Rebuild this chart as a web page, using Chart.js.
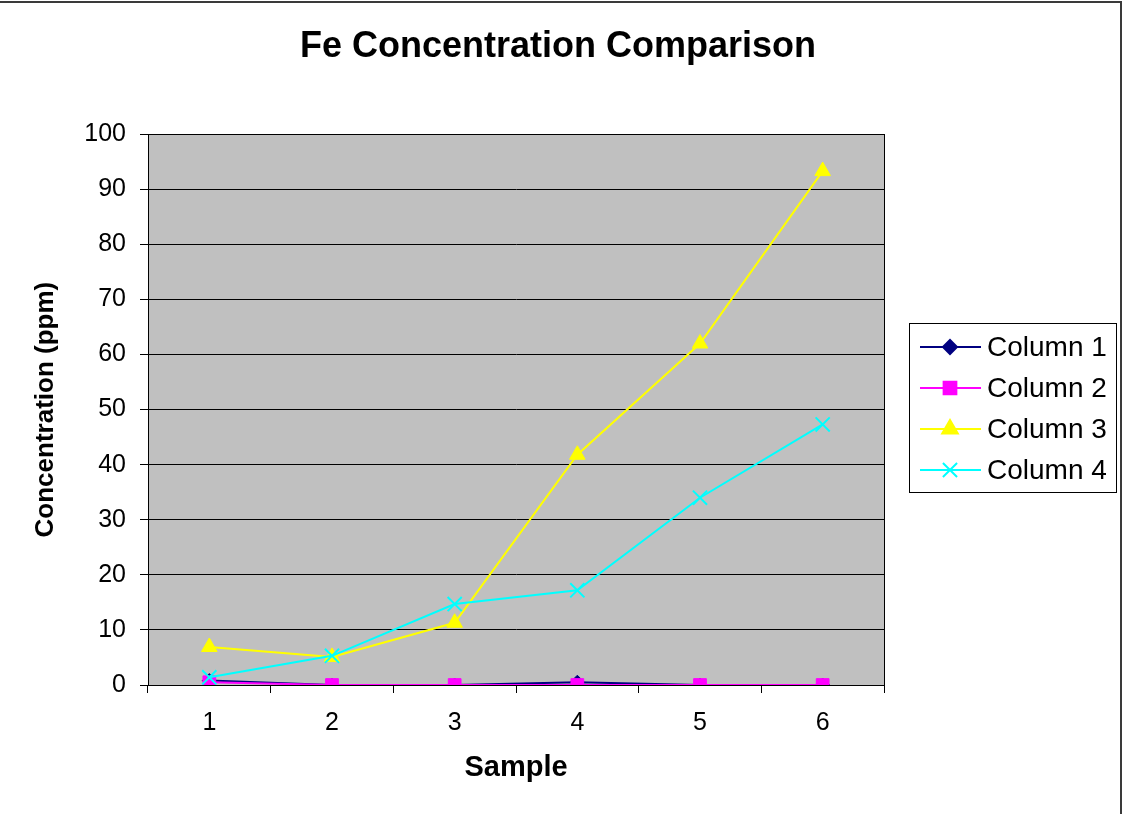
<!DOCTYPE html>
<html>
<head>
<meta charset="utf-8">
<script src="https://cdn.jsdelivr.net/npm/chart.js@4.4.1/dist/chart.umd.min.js"></script>
<style>
    html, body { margin: 0; padding: 0; background: #ffffff; }
    #wrap { width: 1128px; height: 814px; position: relative; }
</style>
</head>
<body>
<div id="wrap"><canvas id="feChart" width="1128" height="814"></canvas></div>
<script>
// Fe concentration data
const samples = ['1', '2', '3', '4', '5', '6'];
const column1 = [0.8, 0, 0, 0.5, 0, 0];
const column2 = [0.5, 0, 0, 0, 0, 0];
const column3 = [6.9, 5.1, 11.3, 41.8, 62.0, 93.3];
const column4 = [1.4, 5.3, 14.7, 17.2, 34.0, 47.3];
const seriesNames = ['Column 1', 'Column 2', 'Column 3', 'Column 4'];

const FONT = 'Arial, "Liberation Sans", sans-serif';

// gray plot area + frame on top/right, and outer page border
const plotBackground = {
    id: 'plotBackground',
    beforeDraw(chart) {
        const {ctx, chartArea: a} = chart;
        ctx.save();
        ctx.fillStyle = '#ffffff';
        ctx.fillRect(0, 0, chart.width, chart.height);
        ctx.fillStyle = '#c0c0c0';
        ctx.fillRect(a.left, a.top, a.right - a.left, a.bottom - a.top);
        ctx.restore();
    },
    afterDraw(chart) {
        const {ctx, chartArea: a} = chart;
        ctx.save();
        ctx.strokeStyle = '#000000';
        ctx.lineWidth = 1;
        ctx.strokeRect(Math.round(a.left) + 0.5, Math.round(a.top) + 0.5, Math.round(a.right - a.left), Math.round(a.bottom - a.top));
        ctx.strokeStyle = '#3a3a3a';
        ctx.lineWidth = 2;
        ctx.beginPath();
        ctx.moveTo(0, 2);
        ctx.lineTo(1121, 2);
        ctx.lineTo(1121, chart.height);
        ctx.stroke();
        ctx.restore();
    }
};

// Excel style legend: line with marker, boxed
const boxLegend = {
    id: 'boxLegend',
    afterDraw(chart) {
        const {ctx} = chart;
        const box = {x: 909, y: 323, w: 207, h: 169};
        ctx.save();
        ctx.fillStyle = '#ffffff';
        ctx.fillRect(box.x, box.y, box.w, box.h);
        ctx.strokeStyle = '#000000';
        ctx.lineWidth = 1;
        ctx.strokeRect(box.x + 0.5, box.y + 0.5, box.w, box.h);
        ctx.font = '28px ' + FONT;
        ctx.textBaseline = 'middle';
        chart.data.datasets.forEach((ds, i) => {
            const y = 347 + i * 41;
            ctx.strokeStyle = ds.borderColor;
            ctx.lineWidth = 2;
            ctx.beginPath();
            ctx.moveTo(920, y);
            ctx.lineTo(981, y);
            ctx.stroke();
            ctx.fillStyle = ds.pointBackgroundColor;
            ctx.strokeStyle = ds.pointBorderColor;
            Chart.helpers.drawPoint(ctx, {
                pointStyle: ds.pointStyle,
                radius: ds.pointRadius,
                rotation: 0,
                borderWidth: ds.pointBorderWidth
            }, 950, y);
            ctx.fillStyle = '#000000';
            ctx.fillText(ds.label, 987, y + 1);
        });
        ctx.restore();
    }
};

function makeSeries(label, data, color, style, radius, order) {
    return {
        label: label,
        data: data,
        borderColor: color,
        backgroundColor: color,
        pointBackgroundColor: color,
        pointBorderColor: color,
        pointBorderWidth: style === 'crossRot' ? 2 : 1,
        pointStyle: style,
        pointRadius: radius,
        borderWidth: 2,
        tension: 0,
        fill: false,
        order: order
    };
}

const ctx = document.getElementById('feChart').getContext('2d');
const feChart = new Chart(ctx, {
    type: 'line',
    data: {
        labels: samples,
        datasets: [
            makeSeries(seriesNames[0], column1, '#000080', 'rectRot', 7, 3),
            makeSeries(seriesNames[1], column2, '#ff00ff', 'rect', 9, 2),
            makeSeries(seriesNames[2], column3, '#ffff00', 'triangle', 9, 1),
            makeSeries(seriesNames[3], column4, '#00ffff', 'crossRot', 10, 0)
        ]
    },
    options: {
        responsive: false,
        animation: false,
        devicePixelRatio: 1,
        layout: { padding: { top: 0, right: 12, bottom: 0, left: 0 } },
        plugins: {
            legend: { display: false },
            tooltip: { enabled: false },
            title: {
                display: true,
                text: 'Fe Concentration Comparison',
                color: '#000000',
                font: { family: FONT, size: 36, weight: 'bold' },
                padding: { top: 25, bottom: 66 }
            }
        },
        scales: {
            x: {
                offset: true,
                afterFit(scale) { scale.height = 129; },
                grid: {
                    offset: true,
                    drawOnChartArea: false,
                    drawTicks: true,
                    tickLength: 8,
                    color: '#000000'
                },
                border: { color: '#000000', width: 1 },
                ticks: {
                    color: '#000000',
                    padding: 15,
                    font: { family: FONT, size: 25 }
                },
                title: {
                    display: true,
                    text: 'Sample',
                    color: '#000000',
                    font: { family: FONT, size: 29, weight: 'bold' },
                    padding: { top: 0, bottom: 29 }
                }
            },
            y: {
                min: 0,
                max: 100,
                afterFit(scale) { scale.width = 148; },
                grid: {
                    drawTicks: true,
                    tickLength: 8,
                    color: '#000000'
                },
                border: { color: '#000000', width: 1 },
                ticks: {
                    stepSize: 10,
                    color: '#000000',
                    padding: 14,
                    font: { family: FONT, size: 25 }
                },
                title: {
                    display: true,
                    text: 'Concentration (ppm)',
                    color: '#000000',
                    font: { family: FONT, size: 26, weight: 'bold' },
                    padding: { top: 30, bottom: 0 }
                }
            },
            // empty right-hand space that holds the legend
            legendSpace: {
                type: 'linear',
                position: 'right',
                display: true,
                afterFit(scale) { scale.width = 232; },
                grid: { display: false, drawTicks: false },
                border: { display: false },
                ticks: { display: false }
            }
        }
    },
    plugins: [plotBackground, boxLegend]
});
</script>
</body>
</html>
